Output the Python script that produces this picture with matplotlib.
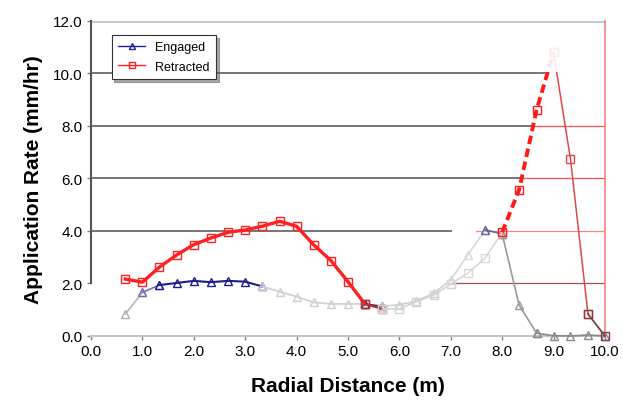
import numpy as np
import matplotlib.pyplot as plt
from matplotlib.lines import Line2D
from matplotlib.patches import Rectangle

plt.rcParams['font.family'] = ['Liberation Sans', 'DejaVu Sans']

# Radial distance (m), one reading every 1/3 m
radial = [0.67, 1.0, 1.33, 1.67, 2.0, 2.33, 2.67, 3.0, 3.33, 3.67,
          4.0, 4.33, 4.67, 5.0, 5.33, 5.67, 6.0, 6.33, 6.67, 7.0,
          7.33, 7.67, 8.0, 8.33, 8.67, 9.0, 9.33, 9.67, 10.0]

# Application rate (mm/hr)
engaged = [0.84, 1.66, 1.94, 2.02, 2.10, 2.05, 2.10, 2.07, 1.89, 1.69,
           1.50, 1.28, 1.22, 1.22, 1.22, 1.13, 1.19, 1.33, 1.63, 2.14,
           3.09, 4.04, 3.89, 1.18, 0.11, 0.01, 0.0, 0.04, 0.0]
retracted = [2.17, 2.05, 2.62, 3.09, 3.48, 3.73, 3.95, 4.04, 4.18, 4.37,
             4.18, 3.48, 2.87, 2.07, 1.22, 1.03, 1.03, 1.31, 1.56, 1.98,
             2.39, 2.97, 3.95, 5.57, 8.61, 10.8, 6.74, 0.84, 0.0]

xticks = np.arange(0, 11, 1)
yticks = np.arange(0, 13, 2)

# how the reference colours each stretch of the curves: (first, last, colour, width, style)
engaged_style = [(0, 1, "#b4b4b4", 1.2, "-"), (1, 2, "#7070b0", 1.2, "-"),
                 (2, 8, "#1c1c8c", 1.5, "-"), (8, 14, "#cfcfcf", 1.2, "-"),
                 (14, 15, "#30307a", 1.2, "-"), (15, 19, "#cfcfcf", 1.2, "-"),
                 (19, 21, "#d8d8d8", 1.2, "-"), (21, 22, "#6060a0", 1.2, "-"),
                 (22, 24, "#9a9a9a", 1.2, "-"), (24, 28, "#8a8a8a", 1.2, "-")]
retracted_style = [(0, 14, "#ff2020", 2.4, "-"), (14, 15, "#b03030", 1.6, "-"),
                   (15, 19, "#d4d4d4", 1.2, "-"), (19, 22, "#d8d8d8", 1.2, "-"),
                   (22, 25, "#ff1a1a", 2.8, (0, (2.2, 1.2))),
                   (25, 27, "#e04848", 1.1, "-"), (27, 28, "#804040", 1.3, "-")]

fig = plt.figure(figsize=(6.23, 4.02), dpi=100)
ax = fig.add_axes([0.146, 0.1617, 0.825, 0.7836])

# horizontal grid, grey then turning red near the right edge as in the picture
ax.axhline(12, color="#c8c8c8", lw=2, zorder=1)
ax.axhline(10, xmax=0.885, color="#6a6a6a", lw=1.3, zorder=1)
ax.axhline(8, xmax=0.86, color="#6a6a6a", lw=1.3, zorder=1)
ax.axhline(8, xmin=0.86, color="#ff5050", lw=0.9, zorder=1)
ax.axhline(6, xmax=0.84, color="#6a6a6a", lw=1.3, zorder=1)
ax.axhline(6, xmin=0.84, color="#ff5050", lw=0.9, zorder=1)
ax.axhline(4, xmax=0.70, color="#6a6a6a", lw=1.3, zorder=1)
ax.axhline(4, xmin=0.75, color="#ff8080", lw=0.9, zorder=1)
ax.axhline(2, xmin=0.70, color="#a05050", lw=0.9, zorder=1)

x = np.array(radial)
for series, styles, marker in [(engaged, engaged_style, "^"),
                               (retracted, retracted_style, "s")]:
    y = np.array(series)
    for a, b, col, lw, ls in styles:
        ax.plot(x[a:b + 1], y[a:b + 1], color=col, lw=lw, linestyle=ls,
                marker=marker, markersize=5.5, markerfacecolor="none",
                markeredgecolor=col, markeredgewidth=1.0, clip_on=False,
                zorder=3)

# the top of the peak is washed out in the reference
ax.add_patch(Rectangle((8.83, 10.05), 0.3, 1.5, facecolor="white",
                       edgecolor="none", alpha=0.9, zorder=4))

ax.set_xlim(0, 10)
ax.set_ylim(0, 12)
ax.set_xticks(xticks)
ax.set_yticks(yticks)
ax.set_xticklabels([f"{v:.1f}" for v in xticks], fontsize=11)
ax.set_yticklabels([f"{v:.1f}" for v in yticks], fontsize=11)
ax.tick_params(length=3, width=1, color="#808080", pad=3)

ax.spines["top"].set_visible(False)
ax.spines["left"].set_color("#555555")
ax.spines["left"].set_linewidth(1.5)
ax.spines["left"].set_bounds(2, 12)
ax.spines["bottom"].set_color("#c4c4c4")
ax.spines["bottom"].set_linewidth(1.5)
ax.spines["right"].set_color("#f08080")
ax.spines["right"].set_linewidth(1.2)

ax.set_xlabel("Radial Distance (m)", fontsize=15, fontweight="bold", labelpad=13)
ax.set_ylabel("Application Rate (mm/hr)", fontsize=15, fontweight="bold", labelpad=7)

handles = [Line2D([], [], color="#2020a0", lw=1, marker="^", markersize=5,
                  markerfacecolor="none", label="Engaged"),
           Line2D([], [], color="#ff2020", lw=1, marker="s", markersize=5,
                  markerfacecolor="none", label="Retracted")]
leg = ax.legend(handles=handles, loc="upper left", bbox_to_anchor=(0.04, 0.956),
                borderaxespad=0, fancybox=False, shadow={"ox": 2, "oy": -2, "color": "#555555"},
                framealpha=1, edgecolor="#333333", fontsize=9, handlelength=2.2,
                borderpad=0.5, labelspacing=0.6)
leg.get_frame().set_linewidth(0.8)

fig.savefig("out.png", dpi=100)
